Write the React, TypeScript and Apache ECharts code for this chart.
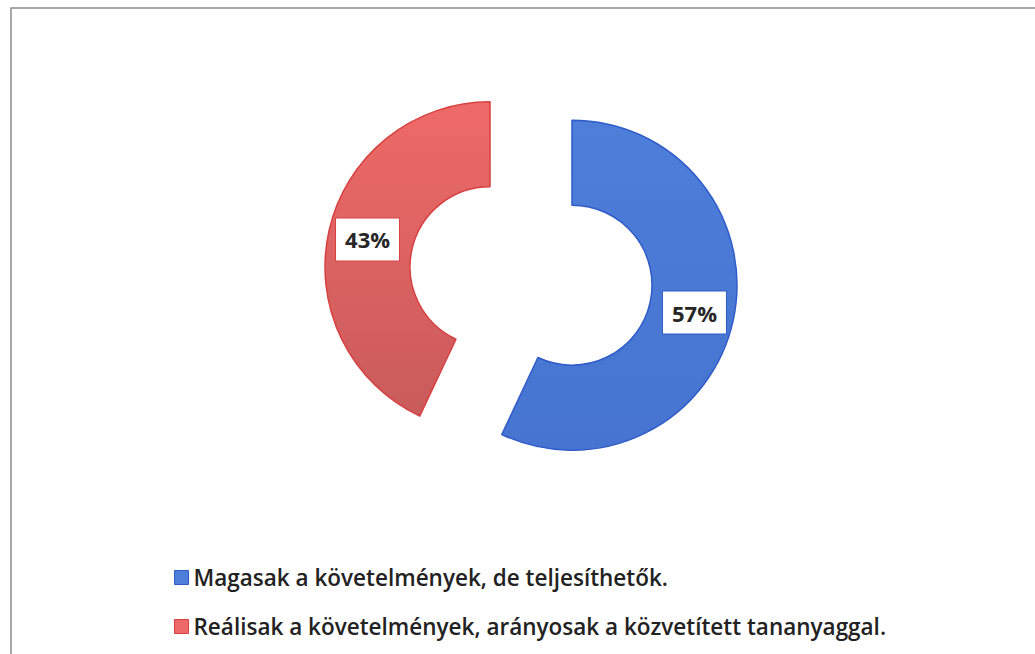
import React, { useEffect, useRef } from "react";
import * as echarts from "echarts";

const categories = [
  "Magasak a követelmények, de teljesíthetők.",
  "Reálisak a követelmények, arányosak a közvetített tananyaggal.",
];
const values = [57, 43];
const colorTop = ["#4d7ed9", "#ee6a68"];
const colorBottom = ["#4674d0", "#c95b5b"];
const borderColors = ["#2f5cc8", "#d84040"];

export default function App() {
  const ref = useRef<HTMLDivElement>(null);
  useEffect(() => {
    document.body.style.margin = "0";
    const chart = echarts.init(ref.current!, null, { renderer: "svg" });
    chart.setOption({
      animation: false,
      backgroundColor: "#ffffff",
      graphic: [
        {
          type: "polyline",
          shape: { points: [[11, 700], [11, 8], [1100, 8]] },
          style: { stroke: "#8a8a8a", lineWidth: 1.5, fill: null },
          silent: true,
        },
      ],
      legend: {
        orient: "vertical",
        left: 169,
        top: 561,
        itemWidth: 14,
        itemHeight: 14,
        itemGap: 26,
        icon: "rect",
        selectedMode: false,
        textStyle: {
          fontFamily: "Open Sans",
          fontWeight: 600,
          fontSize: 22.5,
          lineHeight: 22,
          color: "#222222",
        },
        data: categories.map((name, i) => ({
          name,
          itemStyle: { color: colorTop[i], borderColor: borderColors[i], borderWidth: 1 },
        })),
      },
      series: [
        {
          type: "pie",
          center: [531, 276],
          radius: [80, 165],
          startAngle: 90,
          clockwise: true,
          selectedMode: "multiple",
          selectedOffset: 42,
          avoidLabelOverlap: false,
          label: {
            show: true,
            position: "inside",
            formatter: "{d}%",
            fontFamily: "Open Sans",
            fontWeight: "bold",
            fontSize: 22,
            lineHeight: 22,
            color: "#262626",
            backgroundColor: "#ffffff",
            borderWidth: 1,
            padding: [10, 9, 10, 9],
          },
          labelLine: { show: false },
          emphasis: { disabled: true },
          data: categories.map((name, i) => ({
            name,
            value: values[i],
            selected: true,
            itemStyle: {
              color: new echarts.graphic.LinearGradient(0, 0, 0, 1, [
                { offset: 0, color: colorTop[i] },
                { offset: 1, color: colorBottom[i] },
              ]),
              borderColor: borderColors[i],
              borderWidth: 1.5,
            },
            label: { borderColor: borderColors[i] },
          })),
        },
      ],
    });
    return () => chart.dispose();
  }, []);
  return (
    <div
      ref={ref}
      style={{ position: "fixed", left: 0, top: 0, width: 1035, height: 654 }}
    />
  );
}
